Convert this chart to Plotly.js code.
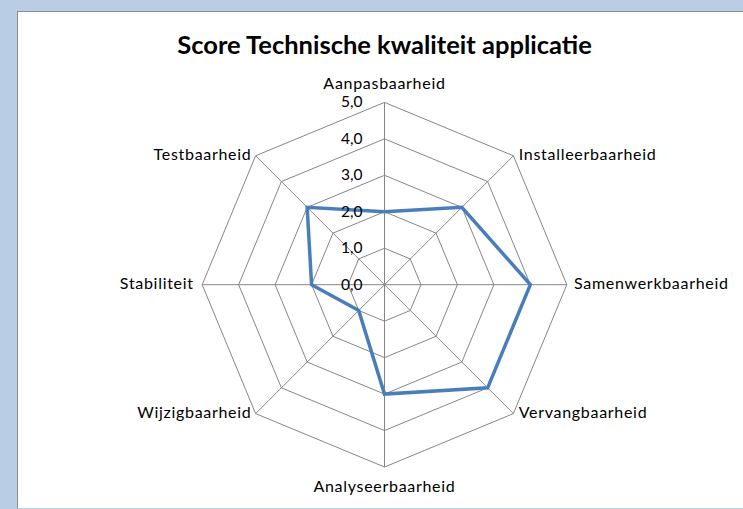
<!DOCTYPE html>
<html>
<head>
<meta charset="utf-8">
<script src="https://cdn.plot.ly/plotly-3.0.1.min.js"></script>
<style>
  html, body { margin: 0; padding: 0; width: 743px; height: 509px; overflow: hidden; background: #B9CDE5; }
  #frame { position: absolute; left: 17px; top: 11px; width: 740px; height: 496px; background: #ffffff; border-left: 1px solid #8C8C8C; border-top: 1px solid #8C8C8C; }
  #chart { position: absolute; left: 0; top: 0; width: 743px; height: 509px; }
  .textpoint text { letter-spacing: 0.7px; }
</style>
</head>
<body>
<div id="frame"></div>
<div id="chart"></div>
<script>
const categories = ["Aanpasbaarheid", "Installeerbaarheid", "Samenwerkbaarheid", "Vervangbaarheid",
                    "Analyseerbaarheid", "Wijzigbaarheid", "Stabiliteit", "Testbaarheid"];
const scores = [2.0, 3.0, 4.0, 4.0, 3.0, 1.0, 2.0, 3.0];
const radialTicks = [0, 1, 2, 3, 4, 5];
const axisMax = 5;
const chartTitle = "Score Technische kwaliteit applicatie";

const gridColor = "#868686";
const labelFont = { family: "Lato, 'Open Sans', sans-serif", size: 16, color: "#000000" };
const tickFont = { family: "Lato, 'Open Sans', sans-serif", size: 15.5, color: "#000000" };

const trace = {
  type: "scatterpolar",
  mode: "lines",
  r: scores.concat([scores[0]]),
  theta: categories.concat([categories[0]]),
  line: { color: "#4A7EBB", width: 3.5 },
  hoverinfo: "skip",
  showlegend: false
};

// category labels placed at the outer ring, Excel-style
const labelTrace = {
  type: "scatterpolar",
  mode: "markers+text",
  r: categories.map(() => axisMax),
  theta: categories,
  text: categories,
  textposition: ["top center", "middle right", "middle right", "middle right",
                 "bottom center", "middle left", "middle left", "middle left"],
  textfont: labelFont,
  marker: { size: [14, 7, 10, 7, 20, 5, 12, 5], opacity: 0, color: "#ffffff" },
  cliponaxis: false,
  hoverinfo: "skip",
  showlegend: false
};

const W = 743, H = 509;
const cx = 384.5, cy = 284.7, R = 182.3;

const layout = {
  width: W, height: H,
  margin: { l: 0, r: 0, t: 0, b: 0 },
  paper_bgcolor: "rgba(0,0,0,0)",
  plot_bgcolor: "rgba(0,0,0,0)",
  separators: ",.",
  showlegend: false,
  title: {
    text: "<b>" + chartTitle + "</b>",
    font: { family: "Lato, 'Open Sans', sans-serif", size: 25.5, color: "#000000" },
    x: cx / W, xanchor: "center",
    y: 1 - 45 / H, yanchor: "middle",
    xref: "paper", yref: "paper"
  },
  polar: {
    domain: {
      x: [(cx - R) / W, (cx + R) / W],
      y: [(H - cy - R) / H, (H - cy + R) / H]
    },
    bgcolor: "rgba(0,0,0,0)",
    gridshape: "linear",
    radialaxis: {
      range: [0, axisMax],
      tickvals: radialTicks,
      tickformat: ".1f",
      angle: 90,
      side: "counterclockwise",
      showline: false,
      ticks: "outside",
      ticklen: 16,
      tickcolor: "rgba(0,0,0,0)",
      showgrid: true,
      gridcolor: gridColor,
      gridwidth: 1,
      tickfont: tickFont,
      tickangle: 90
    },
    angularaxis: {
      direction: "clockwise",
      rotation: 90,
      showline: true,
      linecolor: gridColor,
      linewidth: 1,
      gridcolor: gridColor,
      gridwidth: 1,
      ticks: "",
      showticklabels: false
    }
  }
};

Plotly.newPlot("chart", [trace, labelTrace], layout, { displayModeBar: false, staticPlot: true });
</script>
</body>
</html>
